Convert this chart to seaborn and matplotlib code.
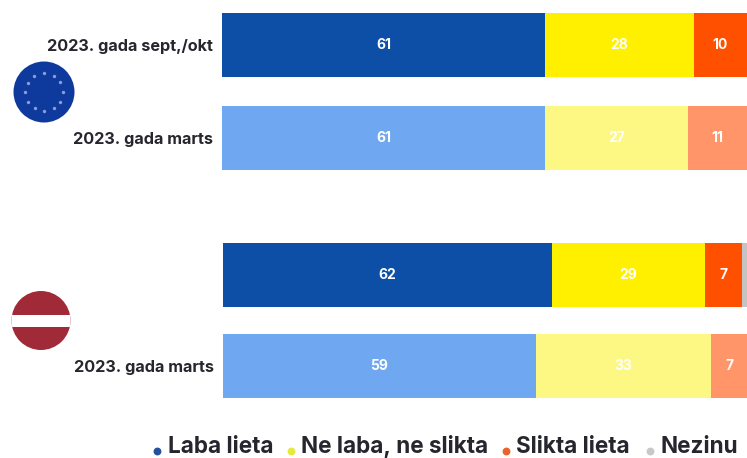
import numpy as np
import matplotlib
matplotlib.use("Agg")
import matplotlib.pyplot as plt
from matplotlib.patches import Circle, Rectangle
import seaborn as sns

# ---- data ----
eu_rows = ["2023. gada sept,/okt", "2023. gada marts"]
lv_rows = [" ", "2023. gada marts"]
good_eu = [61, 61]
neutral_eu = [28, 27]
bad_eu = [10, 11]
unknown_eu = [0, 0]
good_lv = [62, 59]
neutral_lv = [29, 33]
bad_lv = [7, 7]
unknown_lv = [1, 0]
legend_labels = ["Laba lieta", "Ne laba, ne slikta", "Slikta lieta", "Nezinu"]

# ---- style ----
W, H = 747, 458
FONT = "Inter"
TEXT = "#26262e"
DARK = ["#0d4ea6", "#fff000", "#ff5000", "#c4c4c4"]
LIGHT = ["#6fa7f0", "#fdf884", "#ff9569", "#dddddd"]
LEGEND_DOT = ["#24509f", "#e6ea3c", "#e8642c", "#c8c8c8"]

sns.set_theme(style="white")
plt.rcParams["font.family"] = [FONT, "DejaVu Sans"]

fig = plt.figure(figsize=(W / 100, H / 100), dpi=100, facecolor="white")


def px_axes(left, top, right, bottom):
    return fig.add_axes([left / W, 1 - bottom / H, (right - left) / W, (bottom - top) / H])


def stacked(ax, rows, series, width):
    slots = [str(i) for i in range(len(rows))]
    for r, slot in enumerate(slots):
        start = 0.0
        for k, vals in enumerate(series):
            v = float(vals[r])
            colour = DARK[k] if r == 0 else LIGHT[k]
            before = len(ax.patches)
            sns.barplot(x=[v], y=[slot], order=slots, left=start, orient="h", color=colour,
                        width=width, ax=ax, saturation=1, linewidth=0)
            if v >= 5:
                p = ax.patches[before]
                ax.text(p.get_x() + p.get_width() / 2, p.get_y() + p.get_height() / 2, f"{int(v)}",
                        color="white", ha="center", va="center", fontsize=10, fontweight="bold")
            start += v
    ax.set_xlim(0, 525 / 5.3)
    ax.set_ylim(1.5, -0.5)
    ax.set_yticks(range(len(rows)))
    ax.set_yticklabels(rows, fontsize=11.7, fontweight="bold", color=TEXT)
    ax.set_xlabel("")
    ax.set_ylabel("")
    ax.set_xticks([])
    ax.tick_params(axis="y", length=0, pad=6.5)
    ax.patch.set_alpha(0)
    sns.despine(ax=ax, left=True, bottom=True, top=True, right=True)


ax_eu = px_axes(222, 45 - 46.5, 747, 45 + 139.5)
stacked(ax_eu, eu_rows, [good_eu, neutral_eu, bad_eu, unknown_eu], 64 / 93)
ax_lv = px_axes(223, 275 - 45.5, 748, 275 + 136.5)
stacked(ax_lv, lv_rows, [good_lv, neutral_lv, bad_lv, unknown_lv], 64 / 91)

# overlay in pixel coordinates for flags and legend
ov = fig.add_axes([0, 0, 1, 1], zorder=5)
ov.set_xlim(0, W)
ov.set_ylim(H, 0)
ov.axis("off")

ov.add_patch(Circle((44, 92), 30.5, color="#0e3a9e", lw=0))
ang = np.deg2rad(np.arange(0, 360, 30))
ov.scatter(44 + 19 * np.cos(ang), 92 + 19 * np.sin(ang), s=6, marker="o", color="#8f9ccf", lw=0)

clip = Circle((41, 320.5), 29.5, transform=ov.transData)
disc = Circle((41, 320.5), 29.5, color="#a12a38", lw=0)
ov.add_patch(disc)
band = Rectangle((10, 315), 62, 11.5, color="white", lw=0)
ov.add_patch(band)
band.set_clip_path(clip)

dots_x = [157, 291, 506, 650]
text_x = [168, 301, 516, 660]
for dx, tx, lab, c in zip(dots_x, text_x, legend_labels, LEGEND_DOT):
    ov.scatter([dx], [451], s=32, color=c, lw=0)
    ov.text(tx, 447, lab, fontsize=16.2, fontweight="bold", color=TEXT, ha="left", va="center")

fig.savefig("out.png", dpi=100)
